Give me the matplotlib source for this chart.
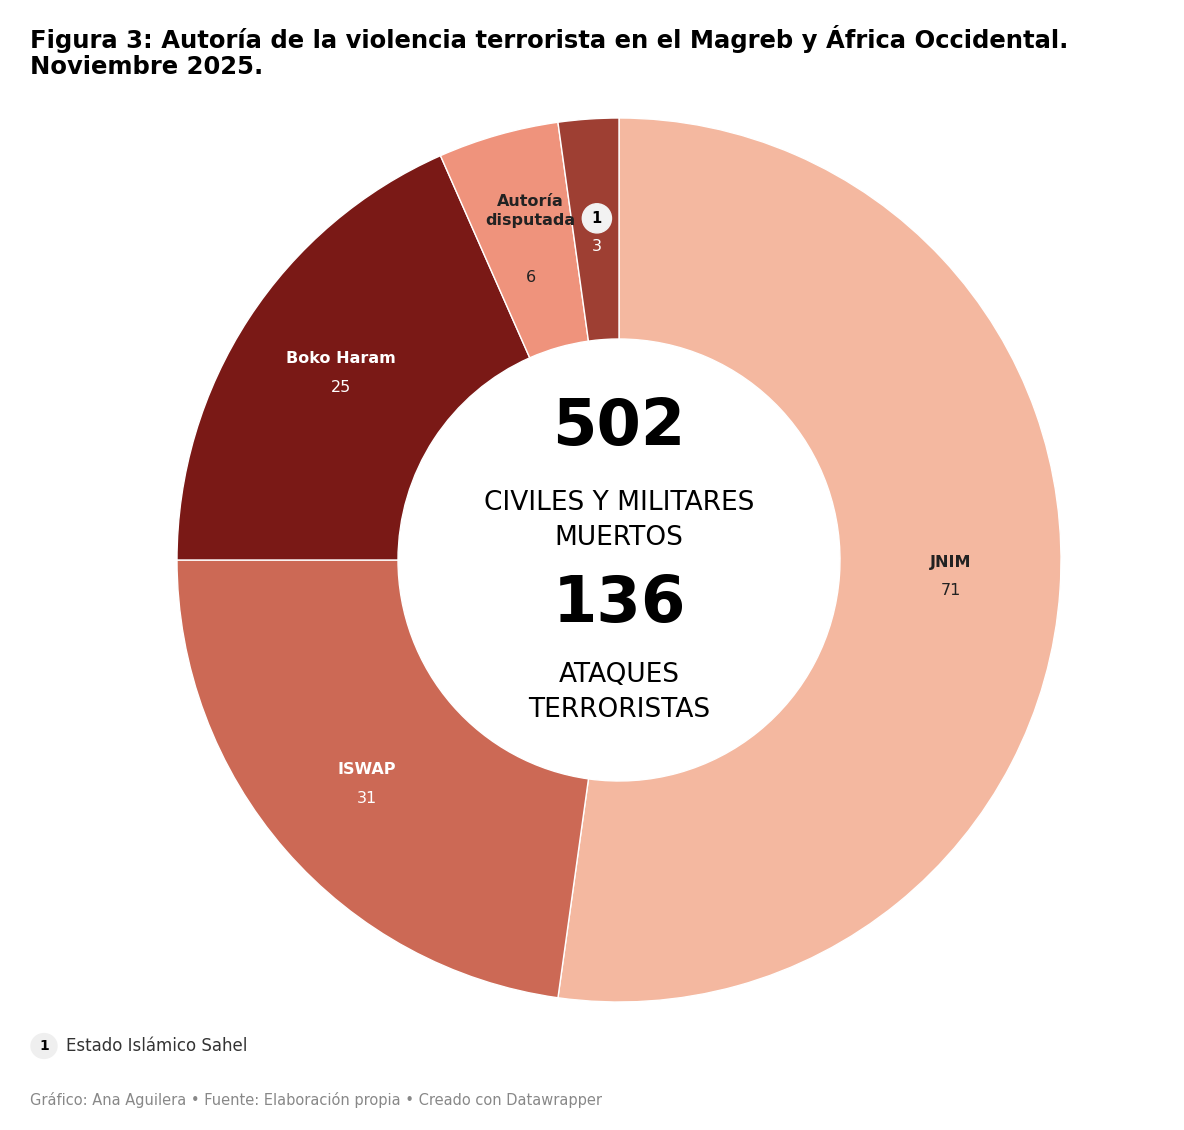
import matplotlib.pyplot as plt

labels = ['JNIM', 'ISWAP', 'Boko Haram', 'Autoría\ndisputada', '1']
values = [71, 31, 25, 6, 3]
colors = ['#f4b8a0', '#cc6955', '#7a1916', '#ef937c', '#9e3f33']
label_colors = ['#222222', 'white', 'white', '#222222', 'white']

W, H = 1184, 1130
fig = plt.figure(figsize=(W / 100, H / 100), dpi=100)
cx, cy, R = 619, 560, 442
ax = fig.add_axes([(cx - R) / W, (H - cy - R) / H, 2 * R / W, 2 * R / H])
wedges, _ = ax.pie(values, colors=colors, startangle=90, counterclock=False,
                   radius=1, wedgeprops=dict(width=0.5, edgecolor='white', linewidth=1))
ax.set_xlim(-1, 1)
ax.set_ylim(-1, 1)
ax.set_aspect('equal')
ax.axis('off')

# label positions in data coords
pos = [(0.75, -0.05), (-0.57, -0.52), (-0.63, 0.41), (-0.2, 0.72)]
for i in range(4):
    x, y = pos[i]
    name = labels[i]
    off = 0.045 if '\n' not in name else 0.07
    ax.text(x, y + off, name, ha='center', va='center', fontsize=11.5,
            fontweight='bold', color=label_colors[i], linespacing=1.3)
    ax.text(x, y - (0.02 if '\n' not in name else 0.08), str(values[i]),
            ha='center', va='center', fontsize=11.5, color=label_colors[i])
# small slice marker
ax.add_patch(plt.Circle((-0.05, 0.773), 0.033, color='#f2f2f2', zorder=5))
ax.text(-0.05, 0.773, '1', ha='center', va='center', fontsize=10.5, fontweight='bold', zorder=6)
ax.text(-0.05, 0.71, str(values[4]), ha='center', va='center', fontsize=11.5, color='white')

# centre text
ax.text(0, 0.3, '502', ha='center', va='center', fontsize=46, fontweight='bold')
ax.text(0, 0.09, 'CIVILES Y MILITARES\nMUERTOS', ha='center', va='center', fontsize=19, linespacing=1.45)
ax.text(0, -0.1, '136', ha='center', va='center', fontsize=46, fontweight='bold')
ax.text(0, -0.3, 'ATAQUES\nTERRORISTAS', ha='center', va='center', fontsize=19, linespacing=1.45)

fig.text(30 / W, 1 - 34 / H, 'Figura 3: Autoría de la violencia terrorista en el Magreb y África Occidental.\nNoviembre 2025.',
         ha='left', va='center', fontsize=17.5, fontweight='bold', linespacing=1.2, va_='center' if False else None) if False else None
fig.text(30 / W, 1 - 52 / H, 'Figura 3: Autoría de la violencia terrorista en el Magreb y África Occidental.\nNoviembre 2025.',
         ha='left', va='center', fontsize=17.5, fontweight='bold', linespacing=1.15)

fig.patches.append(plt.Circle((44 / W, 1 - 1046 / H), 13 / W, transform=fig.transFigure,
                              color='#efefef', figure=fig))
fig.text(44 / W, 1 - 1046 / H, '1', ha='center', va='center', fontsize=10, fontweight='bold')
fig.text(66 / W, 1 - 1046 / H, 'Estado Islámico Sahel', ha='left', va='center', fontsize=12, color='#333333')
fig.text(30 / W, 1 - 1100 / H, 'Gráfico: Ana Aguilera • Fuente: Elaboración propia • Creado con Datawrapper',
         ha='left', va='center', fontsize=10.5, color='#888888')

fig.savefig('out.png', dpi=100)
